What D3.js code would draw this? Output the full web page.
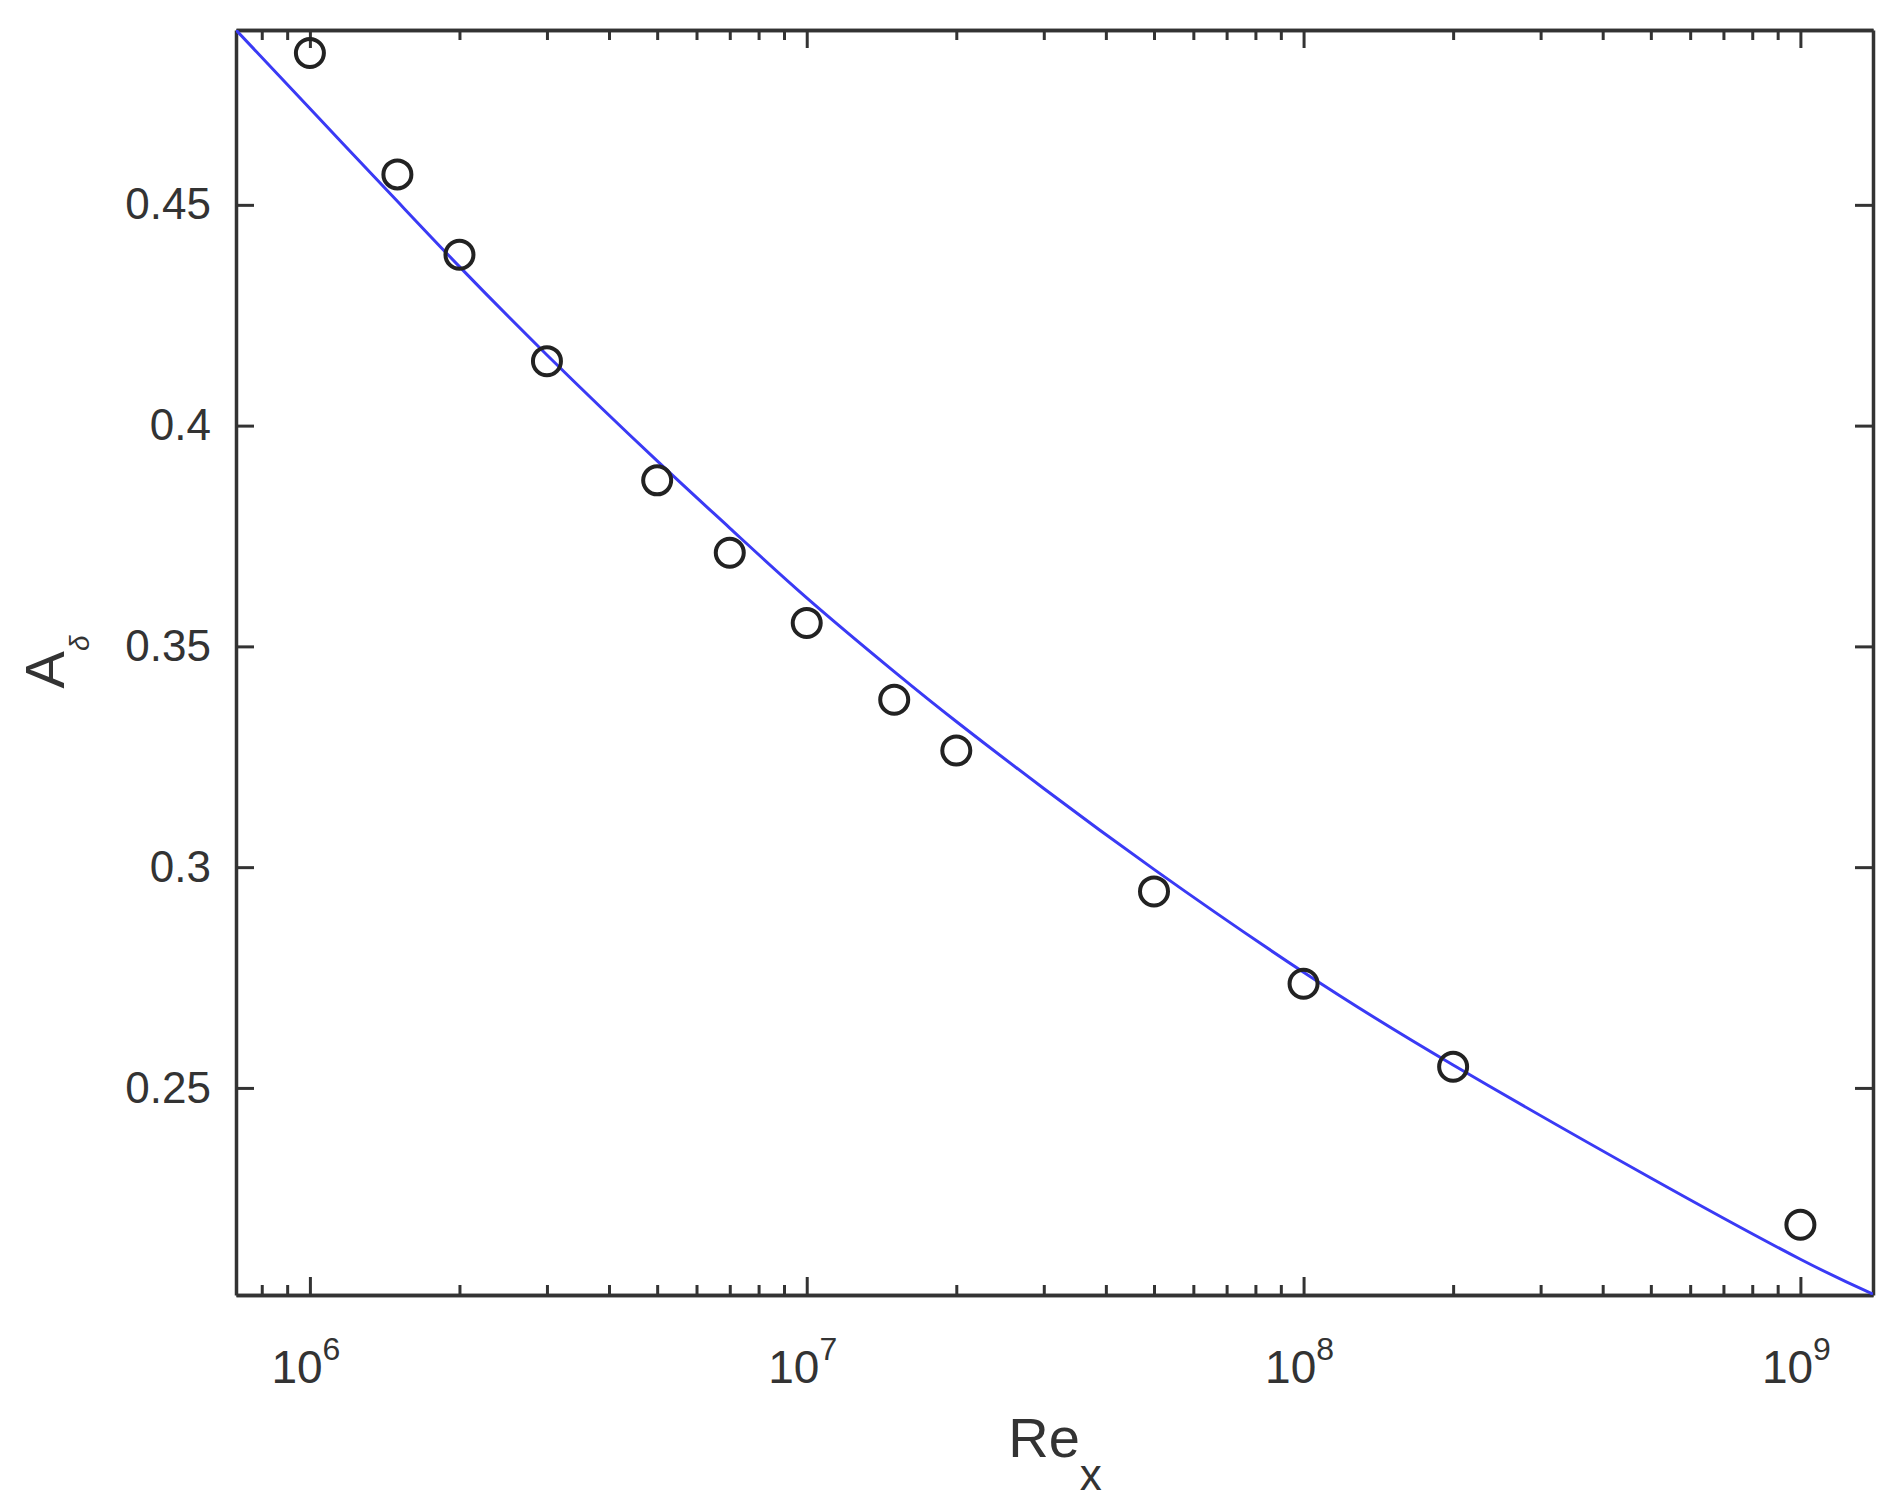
<!DOCTYPE html>
<html>
<head>
<meta charset="utf-8">
<script src="https://cdn.jsdelivr.net/npm/d3@7"></script>
<style>
  body { margin: 0; background: #fff; }
  svg { font-family: "Liberation Sans", Arial, sans-serif; }
</style>
</head>
<body>
<svg id="chart" width="1899" height="1503"></svg>
<script>
// measured points (circles)
var pointRe = [1e6, 1.5e6, 2e6, 3e6, 5e6, 7e6, 1e7, 1.5e7, 2e7, 5e7, 1e8, 2e8, 1e9]
var pointA = [0.4844, 0.4569, 0.4387, 0.4146, 0.3876, 0.3712, 0.3553, 0.3379, 0.3264, 0.2945, 0.2736, 0.2548, 0.2190]

// fitted curve (blue)
var curveRe = [7.1e5, 1e6, 1.5e6, 2e6, 3e6, 5e6, 7e6, 1e7, 1.5e7, 2e7, 3e7, 5e7, 1e8, 2e8, 5e8, 1e9, 1.4e9]
var curveA = [0.4896, 0.4718, 0.4508, 0.4360, 0.4160, 0.3920, 0.3768, 0.3610, 0.3443, 0.3330, 0.3178, 0.2995, 0.2762, 0.2552, 0.2296, 0.2112, 0.2033]

var xTicks = [1e6, 1e7, 1e8, 1e9]
var xTickExp = ["6", "7", "8", "9"]
var yTicks = [0.25, 0.3, 0.35, 0.4, 0.45]
var yTickLabels = ["0.25", "0.3", "0.35", "0.4", "0.45"]

// plot box (window.top is reserved, so prefixed names)
var pLeft = 236, pRight = 1873, pTop = 30, pBottom = 1295

var svg = d3.select("#chart")

var x = d3.scaleLog().domain([7.1e5, 1.4e9]).range([pLeft, pRight])
var y = d3.scaleLinear().domain([0.2031, 0.4896]).range([pBottom, pTop])

var minor = x.ticks().filter(function(d) { return xTicks.indexOf(d) < 0 })

function styleAxis(g) {
    g.select(".domain").attr("stroke", "#333").attr("stroke-width", 3.5)
    g.selectAll(".tick line").attr("stroke", "#333").attr("stroke-width", 3)
}

// minor ticks first so the frame sits on top
svg.append("g").attr("transform", "translate(0," + pBottom + ")")
    .call(d3.axisBottom(x).tickValues(minor).tickSize(-10).tickSizeOuter(0).tickFormat(""))
    .call(styleAxis)
svg.append("g").attr("transform", "translate(0," + pTop + ")")
    .call(d3.axisTop(x).tickValues(minor).tickSize(-10).tickSizeOuter(0).tickFormat(""))
    .call(styleAxis)

svg.append("g").attr("transform", "translate(0," + pBottom + ")")
    .call(d3.axisBottom(x).tickValues(xTicks).tickSize(-18).tickSizeOuter(0).tickFormat(""))
    .call(styleAxis)
svg.append("g").attr("transform", "translate(0," + pTop + ")")
    .call(d3.axisTop(x).tickValues(xTicks).tickSize(-18).tickSizeOuter(0).tickFormat(""))
    .call(styleAxis)

svg.append("g").attr("transform", "translate(" + pLeft + ",0)")
    .call(d3.axisLeft(y).tickValues(yTicks).tickSize(-18).tickSizeOuter(0).tickPadding(25)
        .tickFormat(function(d, i) { return yTickLabels[i] }))
    .call(styleAxis)
    .selectAll("text").style("font-size", "44px").attr("fill", "#333")
svg.append("g").attr("transform", "translate(" + pRight + ",0)")
    .call(d3.axisRight(y).tickValues(yTicks).tickSize(-18).tickSizeOuter(0).tickFormat(""))
    .call(styleAxis)

// x tick labels: 10 with superscript exponent
var xl = svg.append("g").selectAll("text").data(xTicks).join("text")
    .attr("x", function(d) { return x(d) - 4 })
    .attr("y", 1383)
    .attr("text-anchor", "middle")
    .attr("fill", "#333")
    .style("font-size", "46px")
xl.append("tspan").text("10")
xl.append("tspan").attr("dy", -23).style("font-size", "32px").text(function(d, i) { return xTickExp[i] })

// curve
svg.append("clipPath").attr("id", "clip").append("rect")
    .attr("x", pLeft).attr("y", pTop).attr("width", pRight - pLeft).attr("height", pBottom - pTop)

var line = d3.line()
    .x(function(d, i) { return x(curveRe[i]) })
    .y(function(d) { return y(d) })
    .curve(d3.curveNatural)

svg.append("path").datum(curveA)
    .attr("clip-path", "url(#clip)")
    .attr("d", line)
    .attr("fill", "none")
    .attr("stroke", "#3a3af5")
    .attr("stroke-width", 3)

svg.append("g").selectAll("circle").data(pointA).join("circle")
    .attr("cx", function(d, i) { return x(pointRe[i]) })
    .attr("cy", function(d) { return y(d) })
    .attr("r", 14)
    .attr("fill", "none")
    .attr("stroke", "#222")
    .attr("stroke-width", 4)

// axis titles
var xt = svg.append("text").attr("x", 1055).attr("y", 1457).attr("text-anchor", "middle")
    .attr("fill", "#333").style("font-size", "56px")
xt.append("tspan").text("Re")
xt.append("tspan").attr("dy", 33).style("font-size", "44px").text("x")

var yt = svg.append("text").attr("transform", "translate(64,662) rotate(-90)")
    .attr("text-anchor", "middle").attr("fill", "#333").style("font-size", "56px")
yt.append("tspan").text("A")
yt.append("tspan").attr("dy", 25).style("font-size", "28px").style("font-style", "italic").text("δ")
</script>
</body>
</html>
